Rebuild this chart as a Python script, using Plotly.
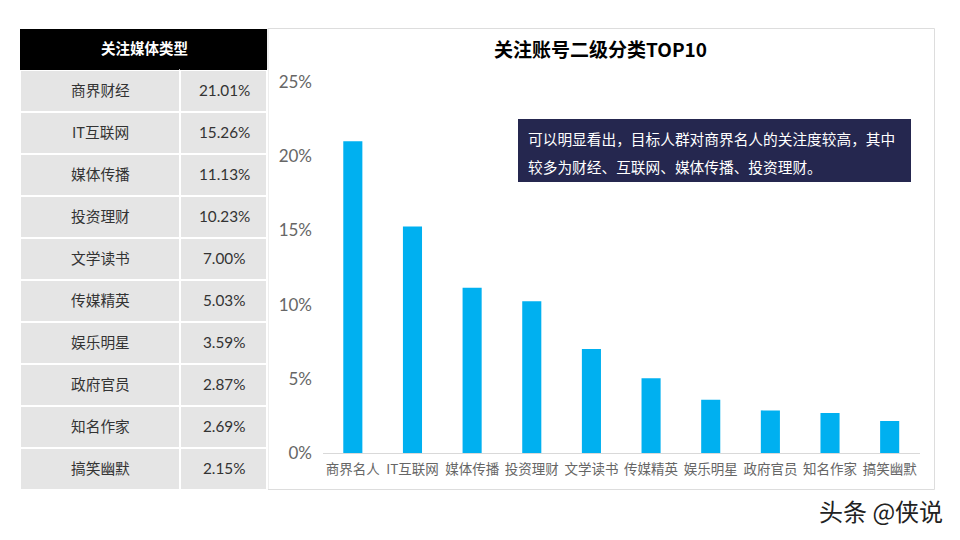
import plotly.graph_objects as go

chart_categories = ["商界名人", "IT互联网", "媒体传播", "投资理财", "文学读书",
                    "传媒精英", "娱乐明星", "政府官员", "知名作家", "搞笑幽默"]
table_categories = ["商界财经", "IT互联网", "媒体传播", "投资理财", "文学读书",
                    "传媒精英", "娱乐明星", "政府官员", "知名作家", "搞笑幽默"]
values = [21.01, 15.26, 11.13, 10.23, 7.00, 5.03, 3.59, 2.87, 2.69, 2.15]
y_ticks = [0, 5, 10, 15, 20, 25]
y_tick_labels = ["0%", "5%", "10%", "15%", "20%", "25%"]
table_header = "关注媒体类型"
chart_title = "关注账号二级分类TOP10"
note_lines = ["可以明显看出\uff0c目标人群对商界名人的关注度较高\uff0c其中",
              "较多为财经、互联网、媒体传播、投资理财。"]
watermark = "头条 @侠说"

# the page has an 8px body margin, so the figure is 952x532 and offset by 8px
W, H = 952, 532
OFF = 8
CJK = "Noto Sans CJK SC"
px = lambda x: (x - OFF) / W
py = lambda y: 1 - (y - OFF) / H

ROW0, ROW_H = 70, 42

fig = go.Figure()

n = len(table_categories)
fig.add_trace(go.Table(
    domain=dict(x=[px(20), px(268)], y=[py(490), py(29)]),
    columnwidth=[161, 87],
    header=dict(
        values=["", ""],
        fill_color="#000000",
        line=dict(color="#000000", width=0),
        height=41,
    ),
    cells=dict(
        values=[[""] * n, [""] * n],
        fill_color="#e5e5e5",
        line=dict(color="#ffffff", width=2),
        height=42,
    ),
))

fig.add_trace(go.Bar(
    x=chart_categories, y=values, width=0.32,
    marker=dict(color="#00b0f0", line=dict(width=0)),
    hoverinfo="skip", showlegend=False,
))

annotations = [
    dict(text=f"<b>{table_header}</b>", xref="paper", yref="paper",
         x=px(144), y=py(47.5), xanchor="center", yanchor="middle", showarrow=False,
         font=dict(family=CJK, size=14.5, color="#ffffff")),
    dict(text=f"<b>{chart_title}</b>", xref="paper", yref="paper",
         x=px(600.5), y=py(48), xanchor="center", yanchor="middle", showarrow=False,
         font=dict(family=CJK, size=19, color="#000000")),
    dict(text=note_lines[0], xref="paper", yref="paper",
         x=px(526), y=py(139), xanchor="left", yanchor="middle", showarrow=False,
         font=dict(family=CJK, size=14.7, color="#ffffff")),
    dict(text=note_lines[1], xref="paper", yref="paper",
         x=px(526), y=py(166), xanchor="left", yanchor="middle", showarrow=False,
         font=dict(family=CJK, size=14.7, color="#ffffff")),
    dict(text=watermark, xref="paper", yref="paper",
         x=px(945), y=py(510), xanchor="right", yanchor="middle", showarrow=False,
         font=dict(family=CJK, size=24, color="#222222")),
]
for i, (name, v) in enumerate(zip(table_categories, values)):
    yc = ROW0 + ROW_H * i + ROW_H / 2 - 1.5
    annotations.append(dict(text=name, xref="paper", yref="paper",
                            x=px(100), y=py(yc), xanchor="center", yanchor="middle",
                            showarrow=False,
                            font=dict(family=CJK, size=14.7, color="#333333")))
    annotations.append(dict(text=f"{v:.2f}%", xref="paper", yref="paper",
                            x=px(224.5), y=py(yc), xanchor="center", yanchor="middle",
                            showarrow=False,
                            font=dict(family="Lato", size=15.3, color="#333333")))

fig.update_layout(
    width=W, height=H, autosize=False,
    margin=dict(l=0, r=0, t=0, b=0),
    paper_bgcolor="#ffffff", plot_bgcolor="rgba(0,0,0,0)",
    showlegend=False,
    xaxis=dict(
        domain=[px(323), px(919.5)], automargin=False,
        showgrid=False, showline=True, linecolor="#d9d9d9", linewidth=1,
        ticks="", tickfont=dict(family=CJK, size=13.5, color="#666666"),
        tickangle=0, ticklabelstandoff=4,
    ),
    yaxis=dict(
        domain=[py(453), py(82)], automargin=False,
        range=[0, 25], tickvals=y_ticks, ticktext=y_tick_labels,
        showgrid=False, showline=False, zeroline=False, ticks="",
        tickfont=dict(family="Lato", size=17, color="#666666"),
        ticklabelstandoff=10,
    ),
    shapes=[
        dict(type="rect", xref="paper", yref="paper",
             x0=px(268), x1=px(934.5), y0=py(489.5), y1=py(28.5),
             line=dict(color="#dddddd", width=1), fillcolor="#ffffff", layer="below"),
        dict(type="rect", xref="paper", yref="paper",
             x0=px(518), x1=px(911), y0=py(182), y1=py(119),
             line=dict(width=0), fillcolor="#25274f", layer="above"),
    ],
    annotations=annotations,
)

fig.write_html("out.html", config=dict(displayModeBar=False))
